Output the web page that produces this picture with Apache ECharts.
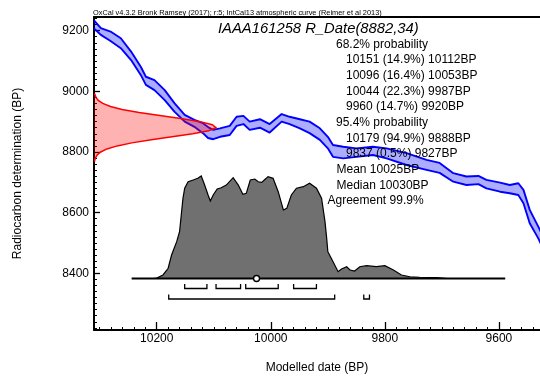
<!DOCTYPE html>
<html><head><meta charset="utf-8">
<script src="https://cdn.jsdelivr.net/npm/echarts@6/dist/echarts.min.js"></script>
<style>html,body{margin:0;padding:0;background:#fff}#c{width:540px;height:376px}</style>
</head><body><div id="c"></div>
<script>
// IntCal13 calibration band: calendar age (cal BP) with upper / lower radiocarbon limits
const curveCal   = [10310,10298,10281,10263,10245,10228,10219,10204,10186,10169,10151,10134,10119,10110,10101,10089,10072,10060,10048,10037,10019,10002,9981,9967,9949,9932,9914,9900,9891,9873,9850,9821,9797,9762,9727,9704,9680,9657,9636,9622,9598,9581,9566,9557,9546,9531,9522];
const curveUpper = [9234,9208,9197,9175,9131,9081,9048,9037,9004,8961,8922,8906,8895,8882,8873,8878,8886,8916,8919,8900,8908,8892,8925,8916,8908,8900,8878,8850,8823,8817,8812,8817,8812,8796,8774,8764,8730,8719,8721,8708,8699,8691,8697,8675,8609,8554,8520];
const curveLower = [9207,9186,9166,9142,9103,9054,9021,9004,8971,8933,8900,8883,8862,8846,8842,8850,8856,8886,8892,8873,8880,8864,8900,8892,8878,8862,8840,8812,8784,8779,8784,8790,8779,8757,8741,8731,8702,8691,8694,8680,8669,8664,8658,8631,8565,8515,8480];

// Radiocarbon measurement R_Date(8882,34): age (BP) and relative probability
const measAge     = [8770,8780,8790,8800,8810,8820,8830,8840,8850,8860,8870,8880,8890,8900,8910,8920,8930,8940,8950,8960,8970,8980,8990];
const measDensity = [0.005,0.011,0.026,0.055,0.106,0.19,0.31,0.47,0.64,0.81,0.94,1.0,0.97,0.87,0.71,0.54,0.37,0.23,0.135,0.072,0.035,0.016,0.007];

// Modelled (calibrated) date: cal BP and relative probability
const postCal     = [10205,10200,10189,10180,10174,10165,10160,10157,10154,10151,10145,10136,10128,10122,10116,10110,10106,10101,10094,10087,10078,10066,10057,10049,10043,10036,10028,10022,10016,10008,10005,9996,9987,9978,9972,9964,9955,9943,9932,9920,9911,9905,9902,9900,9894,9882,9876,9867,9861,9853,9844,9832,9815,9800,9785,9771,9756,9739,9709,9690];
const postDensity = [0,0.004,0.034,0.099,0.227,0.356,0.452,0.614,0.775,0.872,0.935,0.952,0.968,0.99,0.903,0.807,0.749,0.807,0.865,0.877,0.903,0.974,0.903,0.814,0.823,0.952,0.961,0.935,0.929,0.968,0.984,0.968,0.839,0.662,0.678,0.807,0.872,0.887,0.92,0.872,0.775,0.549,0.388,0.259,0.195,0.066,0.092,0.114,0.082,0.072,0.114,0.124,0.114,0.124,0.082,0.034,0.017,0.012,0.008,0];
const postSpan    = [10244, 9589];

// Highest posterior density ranges and summary values
const range68  = [[10151,10112],[10096,10053],[10044,9987],[9960,9920]];
const range95  = [[10179,9888],[9837,9827]];
const meanDate = 10025;

// Axis ticks
const xTickLabels = [9600, 9800, 10000, 10200];
const yTickLabels = [8400, 8600, 8800, 9000, 9200];
const xMinorTicks = []; for (let v = 9540; v <= 10300; v += 20) xMinorTicks.push(v);
const yMinorTicks = []; for (let v = 8220; v <= 9240; v += 20) yMinorTicks.push(v);

// Text
const headerText = 'OxCal v4.3.2 Bronk Ramsey (2017); r:5; IntCal13 atmospheric curve (Reimer et al 2013)';
const sampleText = 'IAAA161258 R_Date(8882,34)';
const infoLines = [
  ['68.2% probability', 336],
  ['10151 (14.9%) 10112BP', 346],
  ['10096 (16.4%) 10053BP', 346],
  ['10044 (22.3%) 9987BP', 346],
  ['9960 (14.7%) 9920BP', 346],
  ['95.4% probability', 336],
  ['10179 (94.9%) 9888BP', 346],
  ['9837 (0.5%) 9827BP', 346],
  ['Mean 10025BP', 336.5],
  ['Median 10030BP', 336.5],
  ['Agreement 99.9%', 327.5]
];

const FONT = '"Liberation Sans", Arial, sans-serif';
const X_MIN = 9528, X_MAX = 10310;
const Y_MIN = 8213, Y_MAX = 9245;
const plain = v => String(v);

const chart = echarts.init(document.getElementById('c'), null, {renderer: 'canvas'});

function renderBand(params, api) {
  const up = curveCal.map((c, i) => api.coord([c, curveUpper[i]]));
  const lo = curveCal.map((c, i) => api.coord([c, curveLower[i]]));
  return {type: 'group', children: [
    {type: 'polygon', shape: {points: up.concat(lo.slice().reverse())}, style: {fill: 'rgba(0,0,255,0.32)'}},
    {type: 'polyline', shape: {points: up}, style: {stroke: '#0000ff', lineWidth: 1.9, fill: null, lineJoin: 'round'}},
    {type: 'polyline', shape: {points: lo}, style: {stroke: '#0000ff', lineWidth: 1.9, fill: null, lineJoin: 'round'}}
  ]};
}

function renderMeas(params, api) {
  const pts = measAge.map((a, i) => api.coord([measDensity[i], a]));
  const b0 = api.coord([0, measAge[0]]);
  const b1 = api.coord([0, measAge[measAge.length - 1]]);
  const outline = [b0].concat(pts, [b1]);
  return {type: 'group', children: [
    {type: 'polygon', shape: {points: outline}, style: {fill: 'rgba(255,0,0,0.3)'}},
    {type: 'polyline', shape: {points: outline}, style: {stroke: '#ff0000', lineWidth: 1.5, fill: null}}
  ]};
}

function renderPosterior(params, api) {
  const pts = postCal.map((c, i) => api.coord([c, postDensity[i]]));
  const s0 = api.coord([postSpan[0], 0]);
  const s1 = api.coord([postSpan[1], 0]);
  const children = [
    {type: 'polygon', shape: {points: pts}, style: {fill: '#707070', stroke: '#000', lineWidth: 1.2}},
    {type: 'line', shape: {x1: s0[0], y1: s0[1], x2: s1[0], y2: s1[1]}, style: {stroke: '#000', lineWidth: 2}}
  ];
  const bracket = (r, off) => {
    const p0 = api.coord([r[0], 0]), p1 = api.coord([r[1], 0]);
    const y = p0[1] + off;
    children.push({type: 'polyline', shape: {points: [[p0[0], y - 4.5], [p0[0], y], [p1[0], y], [p1[0], y - 4.5]]},
      style: {stroke: '#000', lineWidth: 1.3, fill: null}});
  };
  range68.forEach(r => bracket(r, 10));
  range95.forEach(r => bracket(r, 20.5));
  const m = api.coord([meanDate, 0]);
  children.push({type: 'circle', shape: {cx: m[0], cy: m[1], r: 3}, style: {fill: '#fff', stroke: '#000', lineWidth: 1.4}});
  return {type: 'group', children};
}

const graphics = [
  {type: 'text', x: 93, y: 13, z: 100, style: {text: headerText, font: '7.4px ' + FONT, fill: '#000', align: 'left', verticalAlign: 'middle'}},
  {type: 'text', x: 218, y: 29, z: 100, style: {text: sampleText, font: 'italic 14.8px ' + FONT, fill: '#000', align: 'left', verticalAlign: 'middle'}}
];
infoLines.forEach((ln, i) => {
  graphics.push({type: 'text', x: ln[1], y: 44.3 + i * 15.67, z: 100,
    style: {text: ln[0], font: '12px ' + FONT, fill: '#000', align: 'left', verticalAlign: 'middle'}});
});

const option = {
  animation: false,
  backgroundColor: '#fff',
  grid: {left: 94, right: 0, top: 17, bottom: 46, containLabel: false, outerBoundsMode: 'none'},
  xAxis: [
    {type: 'value', min: X_MIN, max: X_MAX, inverse: true, position: 'bottom',
      name: 'Modelled date (BP)', nameLocation: 'middle', nameGap: 32,
      nameTextStyle: {fontFamily: FONT, fontSize: 12, color: '#000'},
      axisLine: {onZero: false, lineStyle: {color: '#000', width: 2}},
      axisTick: {inside: true, length: 8, customValues: xTickLabels, lineStyle: {color: '#000', width: 1.3}},
      axisLabel: {customValues: xTickLabels, formatter: plain, fontFamily: FONT, fontSize: 12, color: '#000', margin: 3},
      splitLine: {show: false}},
    {type: 'value', min: X_MIN, max: X_MAX, inverse: true, position: 'bottom',
      axisLine: {show: false, onZero: false},
      axisTick: {inside: true, length: 3, customValues: xMinorTicks, lineStyle: {color: '#000', width: 1}},
      axisLabel: {show: false}, splitLine: {show: false}},
    {type: 'value', min: 0, max: 446 / 122, show: false},
    {type: 'value', min: X_MIN, max: X_MAX, inverse: true, position: 'top',
      axisLine: {onZero: false, lineStyle: {color: '#000', width: 2}},
      axisTick: {show: false}, axisLabel: {show: false}, splitLine: {show: false}}
  ],
  yAxis: [
    {type: 'value', min: Y_MIN, max: Y_MAX, position: 'left',
      name: 'Radiocarbon determination (BP)', nameLocation: 'middle', nameGap: 70,
      nameTextStyle: {fontFamily: FONT, fontSize: 12, color: '#000'},
      axisLine: {onZero: false, lineStyle: {color: '#000', width: 2}},
      axisTick: {inside: true, length: 6, customValues: yTickLabels, lineStyle: {color: '#000', width: 1.3}},
      axisLabel: {customValues: yTickLabels, formatter: plain, fontFamily: FONT, fontSize: 12, color: '#000', margin: 5},
      splitLine: {show: false}},
    {type: 'value', min: Y_MIN, max: Y_MAX, position: 'left',
      axisLine: {show: false, onZero: false},
      axisTick: {inside: true, length: 3, customValues: yMinorTicks, lineStyle: {color: '#000', width: 1}},
      axisLabel: {show: false}, splitLine: {show: false}},
    {type: 'value', min: -51.5 / 103.5, max: 261.5 / 103.5, show: false}
  ],
  series: [
    {type: 'custom', name: 'IntCal13', xAxisIndex: 0, yAxisIndex: 0, clip: true, data: [0], renderItem: renderBand, z: 2},
    {type: 'custom', name: 'R_Date', xAxisIndex: 2, yAxisIndex: 0, clip: true, data: [0], renderItem: renderMeas, z: 3},
    {type: 'custom', name: 'Posterior', xAxisIndex: 0, yAxisIndex: 2, clip: false, data: [0], renderItem: renderPosterior, z: 4}
  ],
  graphic: graphics
};
chart.setOption(option);
</script>
</body></html>
